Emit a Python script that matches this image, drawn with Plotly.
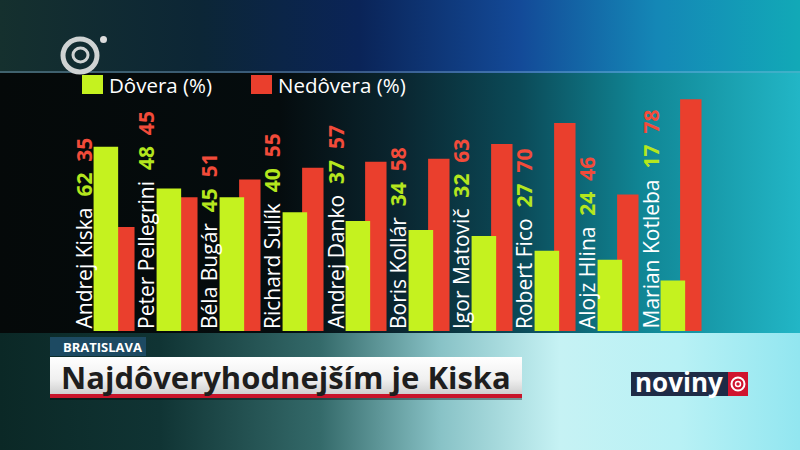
import plotly.graph_objects as go

# ---------------- data ----------------
candidates = ["Andrej Kiska", "Peter Pellegrini", "Béla Bugár", "Richard Sulík",
              "Andrej Danko", "Boris Kollár", "Igor Matovič", "Robert Fico",
              "Alojz Hlina", "Marian Kotleba"]
dovera = [62, 48, 45, 40, 37, 34, 32, 27, 24, 17]
nedovera = [35, 45, 51, 55, 57, 58, 63, 70, 46, 78]
series_names = ["Dôvera (%)", "Nedôvera (%)"]
location = "BRATISLAVA"
headline = "Najdôveryhodnejším je Kiska"
brand = "noviny"

# ---------------- style ----------------
GREEN = "#c5f21f"
RED = "#ea3f2d"
GREEN_TXT = "#b4e61e"
RED_TXT = "#f24b3a"
W, H = 800, 450

fig = go.Figure()


def band(x0, x1, y0, y1, stops, typ="horizontal", start=None, stop=None):
    fg = dict(type=typ, colorscale=stops)
    if start is not None:
        fg["start"] = start
        fg["stop"] = stop
    fig.add_trace(go.Scatter(
        x=[x0, x1, x1, x0, x0], y=[y0, y0, y1, y1, y0],
        fill="toself", mode="lines", line=dict(width=0),
        fillgradient=fg, hoverinfo="skip", showlegend=False,
        xaxis="x", yaxis="y"))


# background (pixel-space axes x / y)
band(0, W, 0, 73, [[0, "#15302e"], [0.25, "#0c2636"], [0.45, "#0a2458"],
                   [0.65, "#134a98"], [0.82, "#1487b6"], [1, "#12a9b7"]], start=0, stop=W)
band(0, W, 73, 333, [[0, "#050909"], [0.35, "#050c0e"], [0.5, "#0a2630"],
                     [0.65, "#0b4a58"], [0.8, "#108594"], [1, "#22b6c6"]], start=0, stop=W)
band(0, W, 333, H, [[0, "#0b2826"], [0.2, "#103434"], [0.4, "#346a6a"],
                    [0.55, "#88c2c6"], [0.7, "#c6f2f4"], [0.85, "#b8f1f5"], [1, "#92e6f0"]], start=0, stop=W)
# headline box
band(50, 522, 357, 394, [[0, "#ffffff"], [0.6, "#f0f0f0"], [1, "#cfcfcf"]],
     typ="vertical", start=357, stop=394)

# bars (axes x2 / y2)
fig.add_trace(go.Bar(x=candidates, y=nedovera, name=series_names[1],
                     marker=dict(color=RED, line=dict(width=0)),
                     offset=-0.03, width=0.34, xaxis="x2", yaxis="y2",
                     showlegend=False, hoverinfo="x+y"))
fig.add_trace(go.Bar(x=candidates, y=dovera, name=series_names[0],
                     marker=dict(color=GREEN, line=dict(width=0)),
                     offset=-0.34, width=0.39, xaxis="x2", yaxis="y2",
                     showlegend=False, hoverinfo="x+y"))

annotations = []
for name, d, n in zip(candidates, dovera, nedovera):
    txt = (f"{name}\u00a0\u00a0<b><span style='color:{GREEN_TXT}'>{d}</span></b>"
           f"\u00a0\u00a0<b><span style='color:{RED_TXT}'>{n}</span></b>")
    annotations.append(dict(x=name, y=0, xref="x2", yref="y2", text=txt,
                            textangle=-90, xanchor="center", yanchor="bottom",
                            xshift=-32, showarrow=False,
                            font=dict(family="Open Sans", size=21, color="white")))

# legend texts
annotations.append(dict(x=107, y=85, xref="x", yref="y", text=series_names[0],
                        xanchor="left", yanchor="middle", showarrow=False,
                        font=dict(family="Open Sans", size=20.5, color="white")))
annotations.append(dict(x=276, y=85, xref="x", yref="y", text=series_names[1],
                        xanchor="left", yanchor="middle", showarrow=False,
                        font=dict(family="Open Sans", size=20.5, color="white")))
# lower third texts
annotations.append(dict(x=61, y=347, xref="x", yref="y", text=f"<b>{location}</b>",
                        xanchor="left", yanchor="middle", showarrow=False,
                        font=dict(family="Open Sans", size=13, color="white")))
annotations.append(dict(x=59, y=377, xref="x", yref="y", text=f"<b>{headline}</b>",
                        xanchor="left", yanchor="middle", showarrow=False,
                        font=dict(family="Open Sans", size=31, color="#1e1e1e")))
annotations.append(dict(x=633, y=382, xref="x", yref="y", text=f"<b>{brand}</b>",
                        xanchor="left", yanchor="middle", showarrow=False,
                        font=dict(family="Open Sans", size=26, color="white")))

shapes = [
    # glow line under top band
    dict(type="line", x0=0, x1=W, y0=72, y1=72, xref="x", yref="y", layer="above",
         line=dict(color="rgba(150,200,235,0.45)", width=1.5)),
    # legend squares
    dict(type="rect", x0=82, x1=103, y0=75, y1=94, xref="x", yref="y", layer="above",
         fillcolor=GREEN, line=dict(width=0)),
    dict(type="rect", x0=251, x1=272, y0=75, y1=94, xref="x", yref="y", layer="above",
         fillcolor=RED, line=dict(width=0)),
    # TV logo
    dict(type="circle", x0=63, x1=97, y0=39, y1=72, xref="x", yref="y", layer="above",
         line=dict(color="#cfd3d3", width=5)),
    dict(type="circle", x0=73, x1=88, y0=48, y1=62, xref="x", yref="y", layer="above",
         line=dict(color="#cfd3d3", width=3)),
    dict(type="circle", x0=100, x1=107, y0=36, y1=43, xref="x", yref="y", layer="above",
         fillcolor="#dddddd", line=dict(width=0)),
    # location tag
    dict(type="rect", x0=50, x1=146, y0=337, y1=356, xref="x", yref="y", layer="above",
         fillcolor="#1d4a62", line=dict(width=0)),
    # headline red underline + shadow
    dict(type="rect", x0=50, x1=522, y0=394, y1=398, xref="x", yref="y", layer="above",
         fillcolor="#c8142a", line=dict(width=0)),
    dict(type="rect", x0=50, x1=522, y0=398, y1=400, xref="x", yref="y", layer="above",
         fillcolor="rgba(0,0,0,0.35)", line=dict(width=0)),
    # brand logo
    dict(type="rect", x0=631, x1=728, y0=372, y1=396, xref="x", yref="y", layer="above",
         fillcolor="#1e2b46", line=dict(width=0)),
    dict(type="rect", x0=728, x1=748, y0=372, y1=396, xref="x", yref="y", layer="above",
         fillcolor="#d0142e", line=dict(width=0)),
    dict(type="circle", x0=731.5, x1=744.5, y0=377.5, y1=390.5, xref="x", yref="y", layer="above",
         line=dict(color="white", width=2)),
    dict(type="circle", x0=735.5, x1=740.5, y0=381.5, y1=386.5, xref="x", yref="y", layer="above",
         line=dict(color="white", width=1.5)),
]

fig.update_layout(
    width=W, height=H, autosize=False,
    margin=dict(l=0, r=0, t=0, b=0),
    paper_bgcolor="#050a0a", plot_bgcolor="rgba(0,0,0,0)",
    barmode="overlay", showlegend=False,
    xaxis=dict(domain=[0, 1], range=[0, W], visible=False, fixedrange=True),
    yaxis=dict(domain=[0, 1], range=[H, 0], visible=False, fixedrange=True),
    xaxis2=dict(domain=[83.5 / W, 713.5 / W], range=[-0.5, 9.5], visible=False,
                anchor="y2", type="category", fixedrange=True),
    yaxis2=dict(domain=[119 / H, 356.6 / H], range=[0, 80], visible=False,
                anchor="x2", fixedrange=True),
    annotations=annotations, shapes=shapes,
)

fig.write_html("out.html", config={"displayModeBar": False},
               post_script="document.body.style.margin='0';document.body.style.overflow='hidden';")
